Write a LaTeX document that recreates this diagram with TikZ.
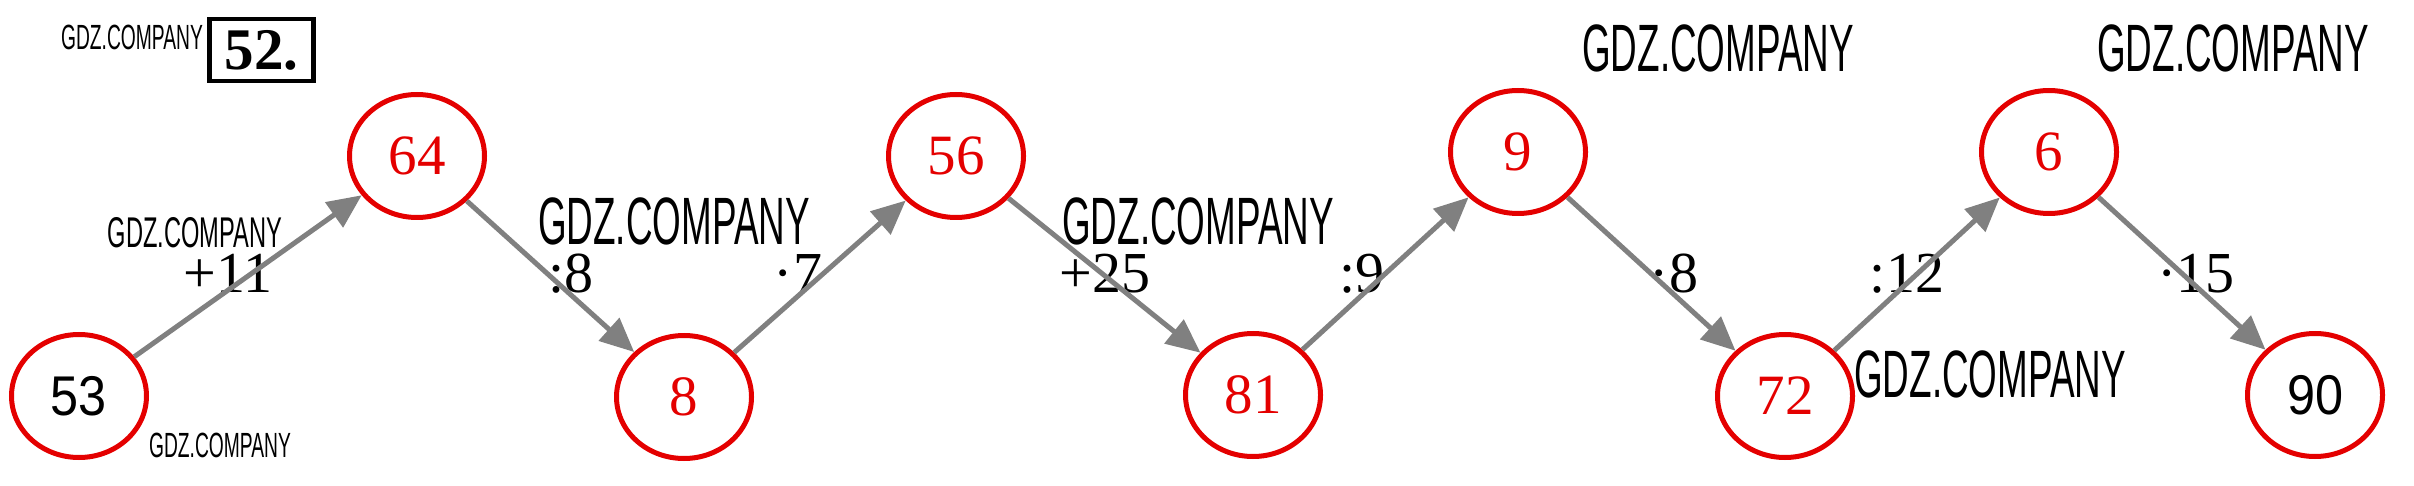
\documentclass[tikz,border=0pt]{standalone}
\usepackage{fontspec}
\setmainfont{Liberation Serif}
\newfontfamily\wmfont[FakeStretch=0.55]{Liberation Sans}
\newfontfamily\endfont[FakeStretch=0.9]{Liberation Sans}
\usetikzlibrary{arrows.meta, shapes.geometric}

\definecolor{ringred}{RGB}{228,0,0}
\definecolor{arrgray}{RGB}{128,128,128}

\tikzset{
  ring/.style={ellipse, draw=ringred, line width=5pt, minimum width=135pt,
    minimum height=123pt, inner sep=0pt, font=\fontsize{57}{57}\selectfont},
  endring/.style={ring, font=\endfont\fontsize{56}{56}\selectfont},
  op/.style={anchor=base, inner sep=0pt, font=\fontsize{58}{58}\selectfont},
  wm/.style={anchor=base, inner sep=0pt, font=\wmfont\fontsize{#1}{#1}\selectfont},
  wm/.default=67,
  jump/.style={->, draw=arrgray, line width=5pt},
}

\begin{document}
\begin{tikzpicture}[x=1pt,y=-1pt,>={Triangle[length=34pt,width=30pt]}]
\useasboundingbox (0,0) rectangle (2414,486);

% task number
\node[draw, line width=4.5pt, minimum width=104pt, minimum height=62pt, inner sep=0pt,
  font=\bfseries\fontsize{59}{59}\selectfont] (num) at (261.5,50) {52.};

% the chain
\node[endring] (n53) at (79,396) {53};
\node[ring, text=ringred] (n64) at (417,156) {64};
\node[ring, text=ringred] (n8) at (684,397) {8};
\node[ring, text=ringred] (n56) at (956,156) {56};
\node[ring, text=ringred] (n81) at (1253,395) {81};
\node[ring, text=ringred] (n9) at (1518,152) {9};
\node[ring, text=ringred] (n72) at (1785,396) {72};
\node[ring, text=ringred] (n6) at (2049,152) {6};
\node[endring] (n90) at (2315,395) {90};

% operations
\node[op] (o1) at (228,292) {+11};
\node[op] (o2) at (571,292) {:8};
\node[op] (o3) at (798,292) {·7};
\node[op] (o4) at (1105,292) {+25};
\node[op] (o5) at (1362,292) {:9};
\node[op] (o6) at (1674,292) {·8};
\node[op] (o7) at (1907,292) {:12};
\node[op] (o8) at (2196,292) {·15};

% watermarks
\node[wm=35] (w1) at (132,50) {GDZ.COMPANY};
\node[wm=43] (w2) at (195,248) {GDZ.COMPANY};
\node[wm=35] (w3) at (220,457) {GDZ.COMPANY};
\node[wm] (w4) at (674,245) {GDZ.COMPANY};
\node[wm] (w5) at (1198,245) {GDZ.COMPANY};
\node[wm] (w6) at (1718,72) {GDZ.COMPANY};
\node[wm] (w7) at (2233,72) {GDZ.COMPANY};
\node[wm] (w8) at (1990,397) {GDZ.COMPANY};

% arrows
\draw[jump] (n53) -- (n64);
\draw[jump] (n64) -- (n8);
\draw[jump] (n8) -- (n56);
\draw[jump] (n56) -- (n81);
\draw[jump] (n81) -- (n9);
\draw[jump] (n9) -- (n72);
\draw[jump] (n72) -- (n6);
\draw[jump] (n6) -- (n90);
\end{tikzpicture}
\end{document}
